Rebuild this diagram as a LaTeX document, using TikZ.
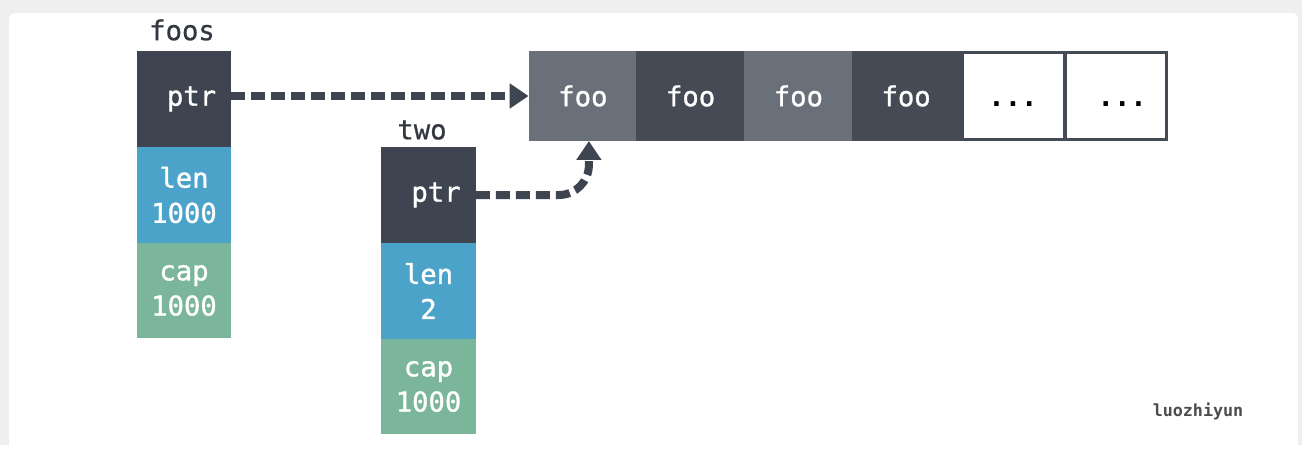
\documentclass[tikz,border=0pt]{standalone}
\usepackage{fontspec}
\setmonofont{DejaVu Sans Mono}
\newfontfamily\cellfont{DejaVu Sans Mono}[FakeBold=1.2]
\newfontfamily\headfont{DejaVu Sans Mono}[FakeBold=0.8]
\usetikzlibrary{arrows.meta}
\definecolor{bggray}{HTML}{EFEFEF}
\definecolor{ptrc}{HTML}{3F4550}
\definecolor{lenc}{HTML}{4BA3C9}
\definecolor{capc}{HTML}{7BB59A}
\definecolor{fooa}{HTML}{6A7079}
\definecolor{foob}{HTML}{454B55}
\definecolor{txtc}{HTML}{333840}
\begin{document}
\begin{tikzpicture}[x=0.02cm,y=-0.02cm]
\tikzstyle{cell} = [rectangle,inner sep=0pt,outer sep=0pt,text=white,align=center,
  font=\cellfont\fontsize{15.5}{20}\selectfont,minimum width=1.9cm,minimum height=1.92cm] %field
\tikzstyle{slot} = [cell,minimum width=2.17cm,minimum height=1.8cm] %array slot
\tikzstyle{hd} = [text=txtc,font=\headfont\fontsize{15.5}{20}\selectfont] %header
\tikzstyle{de} = [draw=ptrc,line width=0.16cm,dash pattern=on 0.28cm off 0.12cm,
  -{Triangle[length=0.38cm,width=0.48cm]}] %pointer
% frame
\fill[bggray] (0,0) rectangle (1302,445);
\fill[white,rounded corners=0.12cm] (9,13) rectangle (1298,460);
\useasboundingbox (0,0) rectangle (1302,445);
% foos
\node[hd](fh)at(182,30){foos};
\node[cell,fill=ptrc](fp)at(184,99){\hspace{0.3cm}ptr};
\node[cell,fill=lenc](fl)at(184,195){len\\1000};
\node[cell,fill=capc](fc)at(184,290.5){cap\\1000};
% two
\node[hd](th)at(422,130){two};
\node[cell,fill=ptrc](tp)at(428.5,195){\hspace{0.3cm}ptr};
\node[cell,fill=lenc](tl)at(428.5,291){len\\2};
\node[cell,fill=capc](tc)at(428.5,386.5){cap\\1000};
% backing array
\node[slot,fill=fooa](a1)at(582.9,96){foo};
\node[slot,fill=foob](a2)at(690.6,96){foo};
\node[slot,fill=fooa](a3)at(798.4,96){foo};
\node[slot,fill=foob](a4)at(906.1,96){foo};
\fill[foob] (960,51) rectangle (1168,141);
\node[slot,fill=white,text=black,minimum width=1.98cm,minimum height=1.68cm](a5)at(1013,96){\vphantom{foo}\ttfamily\bfseries ...};
\node[slot,fill=white,text=black,minimum width=1.96cm,minimum height=1.68cm](a6)at(1116,96){\vphantom{foo}\hspace{0.25cm}\ttfamily\bfseries ...};
% pointers
\draw[de] (fp.east |- a1.west) -- (a1.west);
\draw[de,rounded corners=0.6cm] (tp.east) -| ([xshift=0.12cm]a1.south);
\node[text=black!70,font=\ttfamily\bfseries\fontsize{9.5}{11}\selectfont](wm)at(1198,411){luozhiyun};
\end{tikzpicture}
\end{document}
